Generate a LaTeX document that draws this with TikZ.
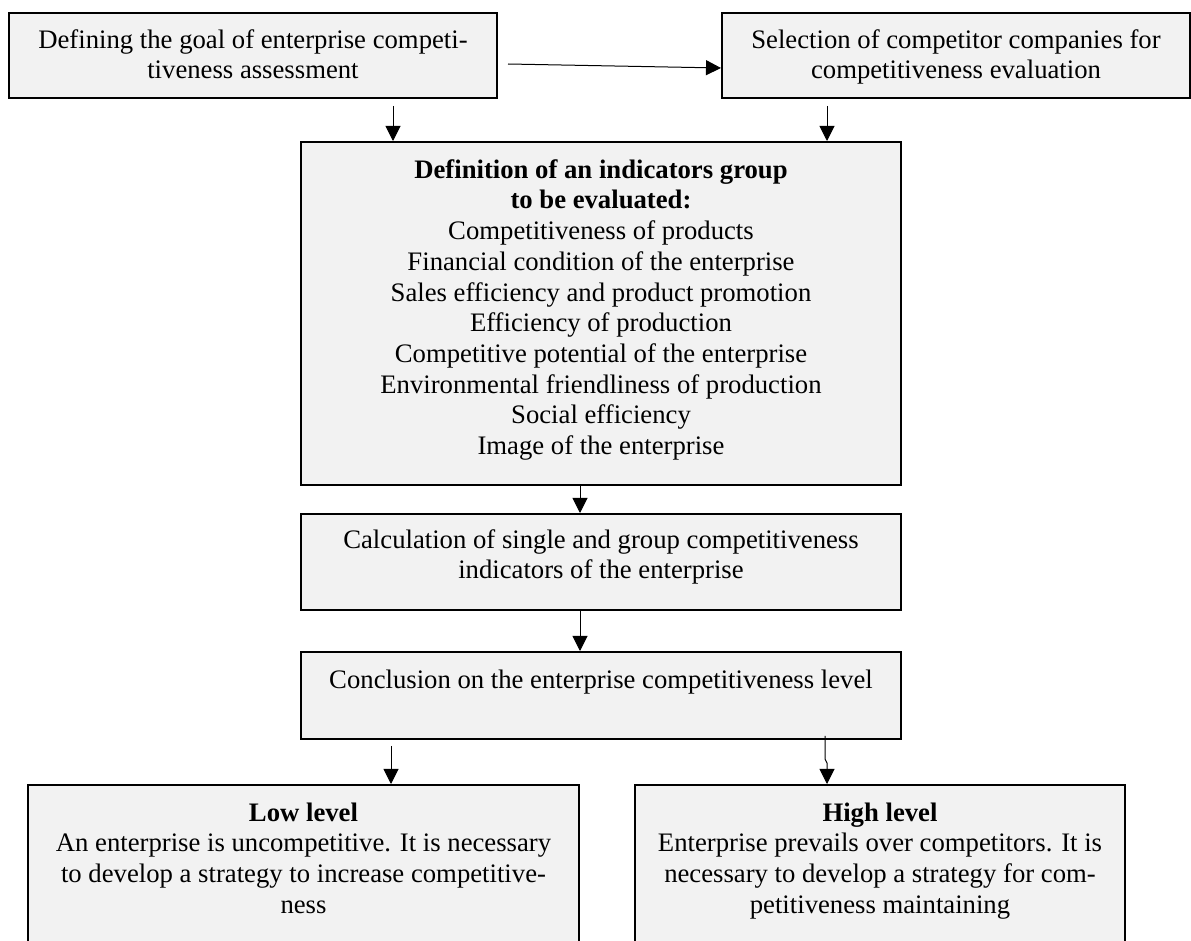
\documentclass[tikz,border=0pt]{standalone}
\usepackage{fontspec}
\setmainfont{Liberation Serif}
\usetikzlibrary{arrows.meta}
\definecolor{boxgray}{RGB}{242,242,242}

\begin{document}
\begin{tikzpicture}[
    x=0.5pt, y=-0.5pt,
    box/.style={
      draw, fill=boxgray, line width=1pt, inner sep=0pt, align=center,
      font=\fontsize{13.35pt}{15.35pt}\selectfont
    },
    arr/.style={
      -{Triangle[length=7.5pt,width=7.5pt]}, line width=0.5pt
    }
    ]
  \useasboundingbox (0,0) rectangle (1191,941);
  \node[box, minimum width=244pt, minimum height=42.5pt, text depth=1.4pt] (goal) at (253,55.5)
    {Defining the goal of enterprise competi-\\tiveness assessment};
  \node[box, minimum width=234pt, minimum height=42.5pt, text depth=1.4pt] (select) at (956,55.5)
    {Selection of competitor companies for\\competitiveness evaluation};
  \node[box, minimum width=300pt, minimum height=171.5pt, text depth=6.5pt] (indic) at (601,313.5)
    {\textbf{Definition of an indicators group}\\
      \textbf{to be evaluated:}\\
      Competitiveness of products\\
      Financial condition of the enterprise\\
      Sales efficiency and product promotion\\
      Efficiency of production\\
      Competitive potential of the enterprise\\
      Environmental friendliness of production\\
      Social efficiency\\
      Image of the enterprise};
  \node[box, minimum width=300pt, minimum height=48pt, text depth=7.9pt] (calc) at (601,562)
    {Calculation of single and group competitiveness\\
      indicators of the enterprise};
  \node[box, minimum width=300pt, minimum height=43.5pt, text depth=16pt] (concl) at (601,695.5)
    {Conclusion on the enterprise competitiveness level};
  \node[box, anchor=north, minimum width=275.5pt, inner ysep=8.8pt, text depth=60pt] (low) at (303.5,784)
    {\textbf{Low level}\\An enterprise is uncompetitive. It is necessary\\
      to develop a strategy to increase competitive-\\ness};
  \node[box, anchor=north, minimum width=245pt, inner ysep=8.8pt, text depth=60pt] (high) at (880,784)
    {\textbf{High level}\\Enterprise prevails over competitors. It is\\
      necessary to develop a strategy for com-\\petitiveness maintaining};

  \draw[arr] ([xshift=5pt,yshift=-4.25pt]goal.east) -- ([yshift=-6.25pt]select.west);
  \draw[arr] ([xshift=70pt,yshift=-3.5pt]goal.south) -- ([xshift=-104pt]indic.north);
  \draw[arr] ([xshift=-64.5pt,yshift=-3.5pt]select.south) -- ([xshift=113pt]indic.north);
  \draw[arr] ([xshift=-10.5pt]indic.south) -- ([xshift=-10.5pt]calc.north);
  \draw[arr] ([xshift=-10.5pt]calc.south) -- ([xshift=-10.5pt]concl.north);
  \draw[arr] ([xshift=-105pt,yshift=-3pt]concl.south) -- ([xshift=43.75pt]low.north);
  \draw[arr] ([xshift=112pt,yshift=2pt]concl.south) -- ++(0,-11.5pt) -- ++(1pt,-2pt)
    -- ([xshift=-26.5pt]high.north);
\end{tikzpicture}
\end{document}
